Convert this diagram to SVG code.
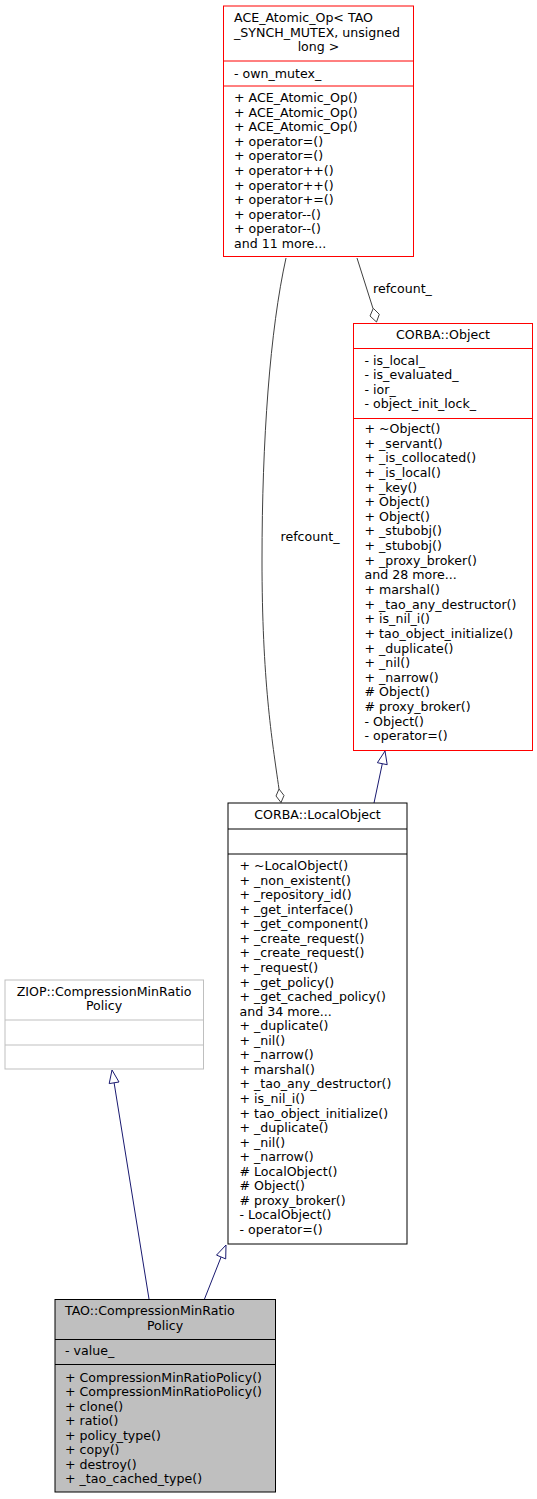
<svg xmlns="http://www.w3.org/2000/svg" width="537" height="1499" viewBox="0 0 537 1499">
<style>
text{font-family:"DejaVu Sans","Liberation Sans",sans-serif;font-size:12.6px;fill:#000}
.c{text-anchor:middle}
.box{fill:#fff;stroke-width:1}
.red{stroke:#ff0000}
.blk{stroke:#000}
.gry{stroke:#bfbfbf}
.sel{fill:#bfbfbf;stroke:#000}
.sep{stroke-width:1}
.agg{fill:none;stroke:#404040;stroke-width:1}
.dia{fill:#fff;stroke:#404040;stroke-width:1}
.inh{fill:none;stroke:#191970;stroke-width:1}
.tri{fill:#fff;stroke:#191970;stroke-width:1}
</style>
<rect width="537" height="1499" fill="#fff"/>
<g id="connectors">
  <path class="agg" d="M286,258 C270,330 262,440 262,560 C262,680 272,740 279,789"/>
  <polygon class="dia" points="279,789 284,795.5 281,802.5 276,796"/>
  <text x="310" y="541" class="c">refcount_</text>
  <path class="agg" d="M357,258 L373,308.5"/>
  <polygon class="dia" points="373.3,308.3 379.3,314.3 376.5,322 370,316"/>
  <text x="373" y="293">refcount_</text>
  <path class="inh" d="M374,803 L382.3,763.7"/>
  <polygon class="tri" points="385,751 387.2,764.7 377.4,762.7"/>
  <path class="inh" d="M204.5,1299 L221.1,1257"/>
  <polygon class="tri" points="226,1245 225.7,1258.9 216.5,1255.1"/>
  <path class="inh" d="M149,1299 L114.1,1082.8"/>
  <polygon class="tri" points="112,1070 119,1082 109.2,1083.6"/>
</g>
<g id="ace_atomic_op">
  <rect class="box red" x="223.5" y="6" width="190" height="250.5"/>
  <line class="sep red" x1="223.5" y1="61" x2="413.5" y2="61"/>
  <line class="sep red" x1="223.5" y1="86" x2="413.5" y2="86"/>
  <text x="234" y="22">ACE_Atomic_Op&lt; TAO</text>
  <text x="234" y="36.6">_SYNCH_MUTEX, unsigned</text>
  <text x="318.5" y="51.2" class="c">long &gt;</text>
  <text x="234" y="77.5">- own_mutex_</text>
  <text x="234" y="102">+ ACE_Atomic_Op()</text>
  <text x="234" y="116.6">+ ACE_Atomic_Op()</text>
  <text x="234" y="131.2">+ ACE_Atomic_Op()</text>
  <text x="234" y="145.8">+ operator=()</text>
  <text x="234" y="160.4">+ operator=()</text>
  <text x="234" y="175">+ operator++()</text>
  <text x="234" y="189.6">+ operator++()</text>
  <text x="234" y="204.2">+ operator+=()</text>
  <text x="234" y="218.8">+ operator--()</text>
  <text x="234" y="233.4">+ operator--()</text>
  <text x="234" y="248">and 11 more...</text>
</g>
<g id="corba_object">
  <rect class="box red" x="353.5" y="323.5" width="179" height="427"/>
  <line class="sep red" x1="353.5" y1="348.5" x2="532.5" y2="348.5"/>
  <line class="sep red" x1="353.5" y1="418.5" x2="532.5" y2="418.5"/>
  <text x="443" y="339" class="c">CORBA::Object</text>
  <text x="364.5" y="364.5">- is_local_</text>
  <text x="364.5" y="379">- is_evaluated_</text>
  <text x="364.5" y="393.6">- ior_</text>
  <text x="364.5" y="408.2">- object_init_lock_</text>
  <text x="364.5" y="433">+ ~Object()</text>
  <text x="364.5" y="447.6">+ _servant()</text>
  <text x="364.5" y="462.3">+ _is_collocated()</text>
  <text x="364.5" y="476.9">+ _is_local()</text>
  <text x="364.5" y="491.5">+ _key()</text>
  <text x="364.5" y="506.2">+ Object()</text>
  <text x="364.5" y="520.8">+ Object()</text>
  <text x="364.5" y="535.4">+ _stubobj()</text>
  <text x="364.5" y="550">+ _stubobj()</text>
  <text x="364.5" y="564.7">+ _proxy_broker()</text>
  <text x="364.5" y="579.3">and 28 more...</text>
  <text x="364.5" y="593.9">+ marshal()</text>
  <text x="364.5" y="608.6">+ _tao_any_destructor()</text>
  <text x="364.5" y="623.2">+ is_nil_i()</text>
  <text x="364.5" y="637.8">+ tao_object_initialize()</text>
  <text x="364.5" y="652.5">+ _duplicate()</text>
  <text x="364.5" y="667.1">+ _nil()</text>
  <text x="364.5" y="681.7">+ _narrow()</text>
  <text x="364.5" y="696.3"># Object()</text>
  <text x="364.5" y="711"># proxy_broker()</text>
  <text x="364.5" y="725.6">- Object()</text>
  <text x="364.5" y="740.2">- operator=()</text>
</g>
<g id="corba_localobject">
  <rect class="box blk" x="228" y="803" width="179" height="441"/>
  <line class="sep blk" x1="228" y1="829" x2="407" y2="829"/>
  <line class="sep blk" x1="228" y1="854" x2="407" y2="854"/>
  <text x="317.5" y="819" class="c">CORBA::LocalObject</text>
  <text x="239.5" y="870">+ ~LocalObject()</text>
  <text x="239.5" y="884.6">+ _non_existent()</text>
  <text x="239.5" y="899.1">+ _repository_id()</text>
  <text x="239.5" y="913.7">+ _get_interface()</text>
  <text x="239.5" y="928.2">+ _get_component()</text>
  <text x="239.5" y="942.8">+ _create_request()</text>
  <text x="239.5" y="957.4">+ _create_request()</text>
  <text x="239.5" y="971.9">+ _request()</text>
  <text x="239.5" y="986.5">+ _get_policy()</text>
  <text x="239.5" y="1001">+ _get_cached_policy()</text>
  <text x="239.5" y="1015.6">and 34 more...</text>
  <text x="239.5" y="1030.2">+ _duplicate()</text>
  <text x="239.5" y="1044.7">+ _nil()</text>
  <text x="239.5" y="1059.3">+ _narrow()</text>
  <text x="239.5" y="1073.8">+ marshal()</text>
  <text x="239.5" y="1088.4">+ _tao_any_destructor()</text>
  <text x="239.5" y="1103">+ is_nil_i()</text>
  <text x="239.5" y="1117.5">+ tao_object_initialize()</text>
  <text x="239.5" y="1132.1">+ _duplicate()</text>
  <text x="239.5" y="1146.6">+ _nil()</text>
  <text x="239.5" y="1161.2">+ _narrow()</text>
  <text x="239.5" y="1175.8"># LocalObject()</text>
  <text x="239.5" y="1190.3"># Object()</text>
  <text x="239.5" y="1204.9"># proxy_broker()</text>
  <text x="239.5" y="1219.4">- LocalObject()</text>
  <text x="239.5" y="1234">- operator=()</text>
</g>
<g id="ziop_policy">
  <rect class="box gry" x="5" y="980" width="198.5" height="89"/>
  <line class="sep gry" x1="5" y1="1020" x2="203.5" y2="1020"/>
  <line class="sep gry" x1="5" y1="1045" x2="203.5" y2="1045"/>
  <text x="104" y="995.5" class="c">ZIOP::CompressionMinRatio</text>
  <text x="104" y="1010" class="c">Policy</text>
</g>
<g id="tao_policy">
  <rect class="sel" x="55" y="1299.5" width="220.5" height="192.5"/>
  <line class="sep blk" x1="55" y1="1339.5" x2="275.5" y2="1339.5"/>
  <line class="sep blk" x1="55" y1="1364.5" x2="275.5" y2="1364.5"/>
  <text x="65" y="1315">TAO::CompressionMinRatio</text>
  <text x="165" y="1330" class="c">Policy</text>
  <text x="65" y="1354.5">- value_</text>
  <text x="65" y="1381.5">+ CompressionMinRatioPolicy()</text>
  <text x="65" y="1396">+ CompressionMinRatioPolicy()</text>
  <text x="65" y="1410.6">+ clone()</text>
  <text x="65" y="1425.1">+ ratio()</text>
  <text x="65" y="1439.7">+ policy_type()</text>
  <text x="65" y="1454.2">+ copy()</text>
  <text x="65" y="1468.8">+ destroy()</text>
  <text x="65" y="1483.4">+ _tao_cached_type()</text>
</g>
</svg>
